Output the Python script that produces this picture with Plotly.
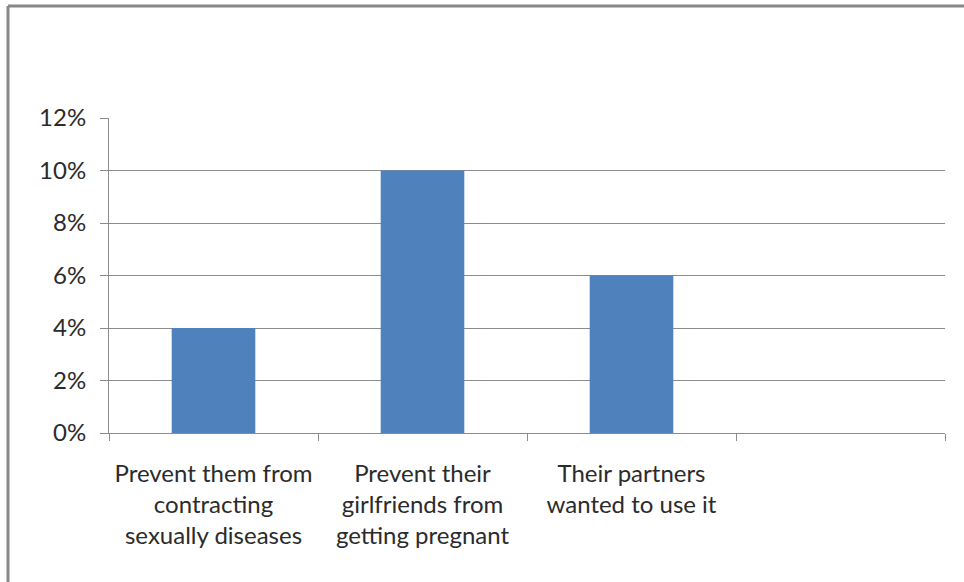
import plotly.graph_objects as go

categories = ["Prevent them from<br>contracting<br>sexually diseases",
              "Prevent their<br>girlfriends from<br>getting pregnant",
              "Their partners<br>wanted to use it",
              " "]
values = [0.04, 0.10, 0.06, None]
y_ticks = [0, 0.02, 0.04, 0.06, 0.08, 0.10, 0.12]
y_tick_labels = ["0%", "2%", "4%", "6%", "8%", "10%", "12%"]

W, H = 964, 582
L, R, T, B = 109, 19, 118, 149
pw, ph = W - L - R, H - T - B

fig = go.Figure(go.Bar(x=categories, y=values, marker=dict(color="#4F81BD", line=dict(width=0)),
                       width=0.4))

grid = "#8c8c8c"
font = dict(family="Lato, 'Open Sans', sans-serif", size=24, color="#2b2b2b")
fig.update_layout(
    width=W, height=H,
    margin=dict(l=L, r=R, t=T, b=B, pad=0),
    paper_bgcolor="white", plot_bgcolor="white",
    showlegend=False,
    font=font,
    xaxis=dict(type="category", tickson="boundaries", ticks="outside", ticklen=7,
               tickcolor=grid, showline=True, linecolor=grid, linewidth=1,
               showgrid=False, range=[-0.5, 3.5], tickfont=font, ticklabelstandoff=19,
               tickangle=0, automargin=False),
    yaxis=dict(range=[0, 0.12], tickvals=y_ticks, ticktext=y_tick_labels,
               ticks="outside", ticklen=8, tickcolor=grid, showgrid=True, gridcolor=grid,
               gridwidth=1, showline=True, linecolor=grid, linewidth=1, zeroline=False,
               tickfont=font, ticklabelstandoff=9, automargin=False),
)

# outer chart frame (top and left edges visible)
fx = (8 - L) / pw
fy = 1 + (T - 6) / ph
fig.add_shape(type="line", xref="paper", yref="paper", x0=fx, x1=1.1, y0=fy, y1=fy,
              line=dict(color="#888888", width=3), layer="above")
fig.add_shape(type="line", xref="paper", yref="paper", x0=fx, x1=fx, y0=fy, y1=-0.6,
              line=dict(color="#888888", width=3), layer="above")

fig.write_html("out.html")
